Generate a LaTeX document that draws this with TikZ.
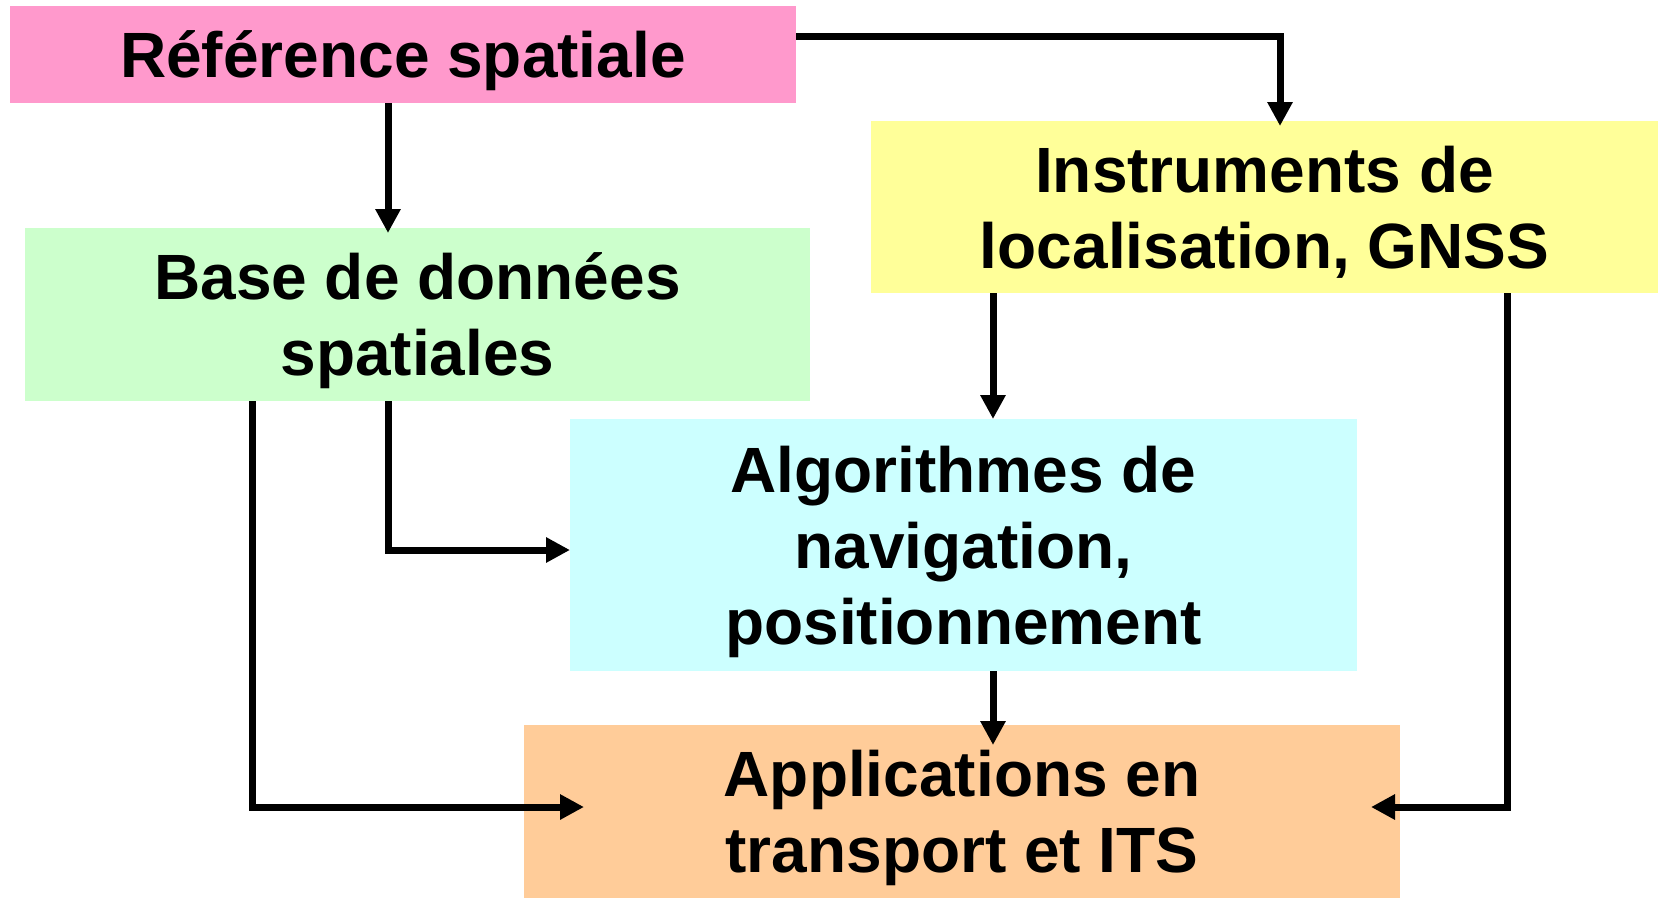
\documentclass[tikz,border=0pt]{standalone}
\usepackage{fontspec}
\setmainfont{Liberation Sans}
\usetikzlibrary{arrows.meta}

\definecolor{refpink}{HTML}{FF99CC}
\definecolor{dbgreen}{HTML}{CCFFCC}
\definecolor{instyellow}{HTML}{FFFF99}
\definecolor{algcyan}{HTML}{CCFFFF}
\definecolor{apporange}{HTML}{FFCC99}

\tikzset{
  box/.style={inner sep=0pt, outer sep=0pt, align=center, text depth=0pt,
    font=\bfseries\fontsize{64}{76}\selectfont},
  link/.style={line width=7pt, -{Triangle[length=24pt,width=24pt]}},
}

\begin{document}
\begin{tikzpicture}[x=1pt,y=-1pt]
\useasboundingbox (0,0) rectangle (1658,898);

% boxes
\node[box, fill=refpink, minimum width=786.5pt, minimum height=97pt] (ref) at (403,54.5) {Référence spatiale};
\node[box, fill=dbgreen, minimum width=785pt, minimum height=173pt] (db) at (417.5,314.5) {Base de données\\spatiales};
\node[box, fill=instyellow, minimum width=787pt, minimum height=172pt] (inst) at (1264.5,207) {Instruments de\\localisation, GNSS};
\node[box, fill=algcyan, minimum width=787pt, minimum height=252pt] (alg) at (963.5,545) {Algorithmes de\\navigation,\\positionnement};
\node[box, fill=apporange, minimum width=876pt, minimum height=173pt] (app) at (962,811.5) {Applications en\\transport et ITS};

% connector end points and bends
\coordinate (refdbTip) at (388,233);
\coordinate (topRun) at (1280,36.5);
\coordinate (instTip) at (1280,126);
\coordinate (dbAlgBend) at (388,550);
\coordinate (dbAlgTip) at (570,550);
\coordinate (dbAppBend) at (252,807);
\coordinate (dbAppTip) at (584,807);
\coordinate (instAlgTip) at (993,419);
\coordinate (algAppTip) at (993,745);
\coordinate (instAppBend) at (1507,807);
\coordinate (instAppTip) at (1371,807);

% connectors
\draw[link] (ref.south -| refdbTip) -- (refdbTip);
\draw[link] (ref.east |- topRun) -- (topRun) -- (instTip);
\draw[link] (db.south -| dbAlgBend) -- (dbAlgBend) -- (dbAlgTip);
\draw[link] (db.south -| dbAppBend) -- (dbAppBend) -- (dbAppTip);
\draw[link] (inst.south -| instAlgTip) -- (instAlgTip);
\draw[link] (alg.south -| algAppTip) -- (algAppTip);
\draw[link] (inst.south -| instAppBend) -- (instAppBend) -- (instAppTip);
\end{tikzpicture}
\end{document}
